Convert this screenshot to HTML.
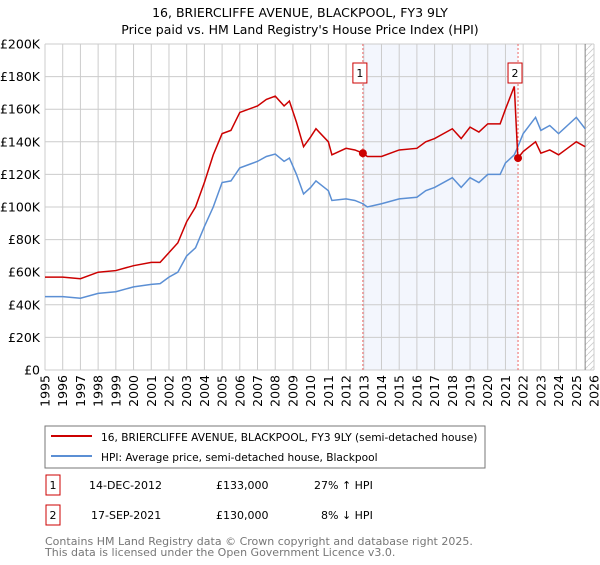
<!DOCTYPE html>
<html><head><meta charset="utf-8"><style>
body{margin:0;background:#fff;font-family:"Liberation Sans","DejaVu Sans",sans-serif;}
svg text{font-family:"DejaVu Sans","Liberation Sans",sans-serif;}
</style></head><body>
<svg id="c" width="600" height="560">
<text x="300" y="17" text-anchor="middle" font-size="12.5" fill="#000">16, BRIERCLIFFE AVENUE, BLACKPOOL, FY3 9LY</text>
<text x="300" y="34" text-anchor="middle" font-size="12.5" fill="#000">Price paid vs. HM Land Registry's House Price Index (HPI)</text>
<defs><pattern id="h" width="6" height="6" patternUnits="userSpaceOnUse"><path d="M0,6 L6,0" stroke="#ccc" stroke-width="0.8"/></pattern></defs>
<g id="plot"></g>
<rect x="45" y="426" width="440" height="42" fill="#fff" stroke="#777"/>
<line x1="51" y1="436" x2="92" y2="436" stroke="#cc0000" stroke-width="2"/>
<text x="101" y="441" font-size="10.6">16, BRIERCLIFFE AVENUE, BLACKPOOL, FY3 9LY (semi-detached house)</text>
<line x1="51" y1="456" x2="92" y2="456" stroke="#5b8fd4" stroke-width="2"/>
<text x="101" y="461" font-size="10.6">HPI: Average price, semi-detached house, Blackpool</text>
<g font-size="11">
<rect x="46" y="475" width="14" height="20" fill="#fff" stroke="#cc0000"/>
<text x="53" y="489" text-anchor="middle">1</text>
<text x="89" y="489">14-DEC-2012</text>
<text x="216" y="489">£133,000</text>
<text x="314" y="489">27% ↑ HPI</text>
<rect x="46" y="505" width="14" height="20" fill="#fff" stroke="#cc0000"/>
<text x="53" y="519" text-anchor="middle">2</text>
<text x="91" y="519">17-SEP-2021</text>
<text x="216" y="519">£130,000</text>
<text x="321" y="519">8% ↓ HPI</text>
</g>
<text x="45" y="545" font-size="11" fill="#777">Contains HM Land Registry data © Crown copyright and database right 2025.</text>
<text x="45" y="556" font-size="11" fill="#777">This data is licensed under the Open Government Licence v3.0.</text>
</svg>
<script>
const years=[1995,1996,1997,1998,1999,2000,2001,2001.5,2002,2002.5,2003,2003.5,2004,2004.5,2005,2005.5,2006,2006.5,2007,2007.5,2008,2008.5,2008.8,2009.2,2009.6,2010,2010.3,2011,2011.2,2012,2012.5,2012.95,2013.2,2014,2015,2016,2016.5,2017,2018,2018.5,2019,2019.5,2020,2020.7,2021,2021.5,2021.7,2022,2022.7,2023,2023.5,2024,2024.5,2025,2025.5];
const hpi=[45,45,44,47,48,51,52.5,53,57,60,70,75,88,100,115,116,124,126,128,131,132.5,128,130,120,108,112,116,110,104,105,104,102,100,102,105,106,110,112,118,112,118,115,120,120,127,132,137,145,155,147,150,145,150,155,148];
const price=[57,57,56,60,61,64,66,66,72,78,91,100,115,132,145,147,158,160,162,166,168,162,165,152,137,143,148,140,132,136,135,133,131,131,135,136,140,142,148,142,149,146,151,151,160,174,130,134,140,133,135,132,136,140,137];
const yTicks=[0,20,40,60,80,100,120,140,160,180,200];
const xTicks=[1995,1996,1997,1998,1999,2000,2001,2002,2003,2004,2005,2006,2007,2008,2009,2010,2011,2012,2013,2014,2015,2016,2017,2018,2019,2020,2021,2022,2023,2024,2025,2026];
const sales=[{n:"1",t:2012.95,v:133},{n:"2",t:2021.71,v:130}];
const X0=45,X1=594,Y0=370,Y1=44;
const sx=t=>X0+(t-1995)/(2026-1995)*(X1-X0);
const sy=v=>Y0-v/200*(Y0-Y1);
const g=document.getElementById('plot');
const NS='http://www.w3.org/2000/svg';
function mk(tag,a,p){const e=document.createElementNS(NS,tag);for(const k in a)e.setAttribute(k,a[k]);(p||g).appendChild(e);return e;}
let r=mk('rect',{x:sx(2012.95),y:Y1,width:sx(2021.71)-sx(2012.95),height:Y0-Y1,fill:'#f3f6fd'});


r=mk('rect',{x:sx(2025.5),y:Y1,width:X1-sx(2025.5),height:Y0-Y1,fill:'url(#h)'});


yTicks.forEach(v=>{
 let l=mk('line',{x1:X0,x2:X1,y1:sy(v),y2:sy(v),stroke:'#ccc'});
 
 
 let t=mk('text',{x:40,y:sy(v)+4.5,'text-anchor':'end','font-size':'12.5'});
 t.textContent=v===0?'£0':'£'+v+'K';
 
 
});
xTicks.forEach(y=>{
 let l=mk('line',{x1:sx(y),x2:sx(y),y1:Y1,y2:Y0,stroke:'#ccc'});
 
 
 let t=mk('text',{x:0,y:0,'text-anchor':'end','font-size':'12.5',transform:`translate(${sx(y)+4.5},375) rotate(-90)`});
 t.textContent=y;
 
 
});
let e=mk('line',{x1:sx(2025.5),x2:sx(2025.5),y1:Y1,y2:Y0,stroke:'#888'});


sales.forEach(s=>{
 let l=mk('line',{x1:sx(s.t),x2:sx(s.t),y1:Y1,y2:Y0,stroke:'#e66','stroke-dasharray':'2,2'});
 
 
});
let p=mk('polyline',{points:years.map((t,i)=>sx(t)+','+sy(hpi[i])).join(' '),fill:'none',stroke:'#5b8fd4','stroke-width':'1.5'});


p=mk('polyline',{points:years.map((t,i)=>sx(t)+','+sy(price[i])).join(' '),fill:'none',stroke:'#cc0000','stroke-width':'1.5'});


sales.forEach(s=>{
 let c=mk('circle',{cx:sx(s.t),cy:sy(s.v),r:4,fill:'#cc0000'});
 
 
 let b=mk('rect',{x:sx(s.t)-10,y:63,width:14,height:20,fill:'#fff',stroke:'#cc0000'});
 
 
 let t=mk('text',{x:sx(s.t)-3,y:77,'text-anchor':'middle','font-size':'11'});
 t.textContent=s.n;
 
 
});
</script>
</body></html>
